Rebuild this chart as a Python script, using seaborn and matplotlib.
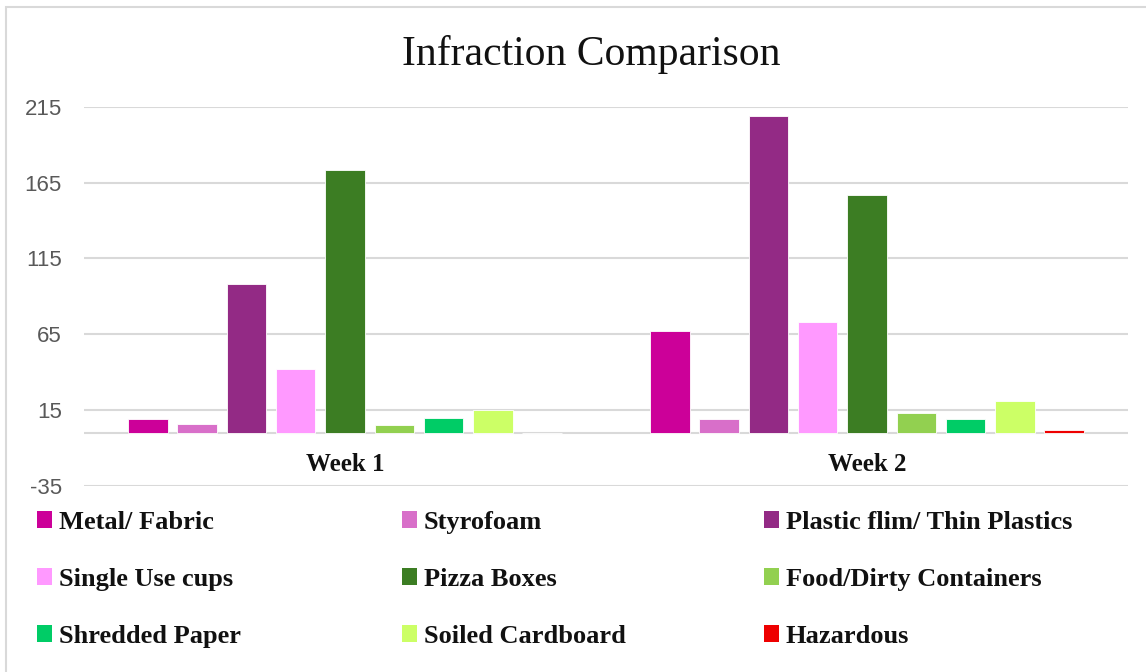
import matplotlib
matplotlib.use("Agg")
import matplotlib.pyplot as plt
from matplotlib.patches import Rectangle, Patch
import seaborn as sns
import pandas as pd

weeks = ["Week 1", "Week 2"]
categories = ["Metal/ Fabric", "Styrofoam", "Plastic flim/ Thin Plastics",
              "Single Use cups", "Pizza Boxes", "Food/Dirty Containers",
              "Shredded Paper", "Soiled Cardboard", "Hazardous"]
week1 = [9, 6, 98, 42, 173, 5, 10, 15, 0]
week2 = [67, 9, 209, 73, 157, 13, 9, 21, 2]
colors = ["#CC0099", "#D86FC9", "#932A85", "#FF99FF", "#3C7D23",
          "#92D050", "#00CC66", "#CCFF66", "#EE0000"]
yticks = [-35, 15, 65, 115, 165, 215]

df = pd.DataFrame({
    "week": [weeks[0]] * len(categories) + [weeks[1]] * len(categories),
    "category": categories * 2,
    "value": week1 + week2,
})

sns.set_style("white")
serif = ["Liberation Serif", "DejaVu Serif"]

fig = plt.figure(figsize=(11.46, 6.72), dpi=100)
ax = fig.add_axes([84 / 1146, 1 - 486 / 672, 1044 / 1146, 379.3 / 672])

sns.barplot(data=df, x="week", y="value", hue="category", hue_order=categories,
            palette=colors, saturation=1, width=0.85, gap=0.2, ax=ax,
            legend=False, edgecolor="white", linewidth=0.6)

ax.set_ylim(-35, 215)
ax.set_yticks(yticks)
ax.set_yticklabels([str(t) for t in yticks], family="Liberation Sans",
                   fontsize=16, color="#595959")
ax.tick_params(axis="y", length=0, pad=16)
ax.grid(axis="y", color="#D9D9D9", linewidth=1.5)
ax.set_axisbelow(True)
ax.axhline(0, color="#D9D9D9", linewidth=1.5, zorder=0.5)
ax.set_xticks([])
ax.set_xlabel("")
ax.set_ylabel("")
for s in ax.spines.values():
    s.set_visible(False)

for i, w in enumerate(weeks):
    ax.text(i, -20.5, w, ha="center", va="center", family=serif,
            fontweight="bold", fontsize=18, color="#111111")

fig.text(591 / 1146, 1 - 55 / 672, "Infraction Comparison", ha="center", va="center",
         family=serif, fontsize=30, color="#111111")

# legend: three columns, filled row by row
handles = [Patch(facecolor=c, edgecolor="none") for c in colors]
col_x = [26, 391, 753]
for j in range(3):
    idx = [j, j + 3, j + 6]
    leg = fig.legend([handles[k] for k in idx], [categories[k] for k in idx],
                     loc="upper left", bbox_to_anchor=(col_x[j] / 1146, 1 - 500 / 672),
                     frameon=False, handlelength=0.6, handleheight=0.6,
                     handletextpad=0.25, labelspacing=1.3, borderaxespad=0,
                     prop={"family": serif, "weight": "bold", "size": 19})
    for t in leg.get_texts():
        t.set_color("#111111")

fig.patches.append(Rectangle((6 / 1146, -0.1), 1.2, 1 - 7 / 672 + 0.1,
                             transform=fig.transFigure, fill=False,
                             edgecolor="#D9D9D9", linewidth=1.5))

fig.savefig("out.png", dpi=100)
